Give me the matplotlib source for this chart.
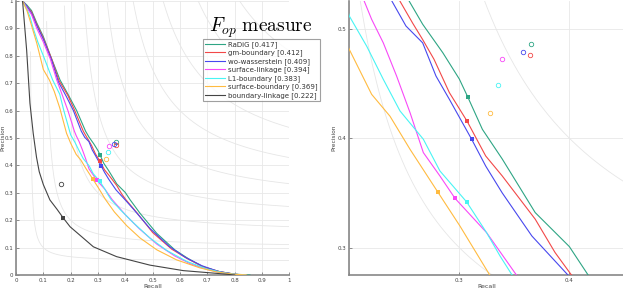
import numpy as np
import matplotlib
matplotlib.use("Agg")
import matplotlib.pyplot as plt

plt.rcParams['mathtext.fontset'] = 'cm'

# precision-recall curves (recall, precision)
radig_r = [0.024, 0.04, 0.057, 0.076, 0.1, 0.13, 0.161, 0.19, 0.222, 0.2545, 0.2667, 0.285, 0.3, 0.3075,
           0.321, 0.339, 0.369, 0.4, 0.4167, 0.454, 0.515, 0.582, 0.63, 0.684, 0.746, 0.8, 0.856]
radig_p = [1.0, 0.985, 0.965, 0.92, 0.87, 0.79, 0.712, 0.66, 0.6, 0.525, 0.504, 0.478, 0.454, 0.438,
           0.408, 0.381, 0.332, 0.301, 0.2756, 0.225, 0.152, 0.091, 0.06, 0.03, 0.012, 0.003, 0.0]

gm_r = [0.024, 0.04, 0.057, 0.076, 0.1, 0.13, 0.157, 0.19, 0.215, 0.2461, 0.2576, 0.2667, 0.277, 0.291,
        0.307, 0.324, 0.339, 0.369, 0.387, 0.4015, 0.44, 0.5, 0.57, 0.63, 0.684, 0.746, 0.8, 0.83]
gm_p = [1.0, 0.98, 0.96, 0.915, 0.865, 0.79, 0.71, 0.655, 0.6, 0.525, 0.505, 0.49, 0.472, 0.4415,
        0.4156, 0.3837, 0.3655, 0.326, 0.2956, 0.2756, 0.23, 0.155, 0.094, 0.058, 0.03, 0.012, 0.003, 0.0]

wo_r = [0.024, 0.04, 0.057, 0.076, 0.1, 0.13, 0.155, 0.185, 0.21, 0.2388, 0.2515, 0.2667, 0.2788, 0.291,
        0.3112, 0.324, 0.339, 0.366, 0.3982, 0.43, 0.49, 0.56, 0.62, 0.68, 0.74, 0.8, 0.83]
wo_p = [1.0, 0.98, 0.955, 0.91, 0.86, 0.785, 0.705, 0.65, 0.6, 0.525, 0.5024, 0.487, 0.4567, 0.4354,
        0.399, 0.3745, 0.35, 0.3106, 0.2756, 0.24, 0.17, 0.105, 0.064, 0.034, 0.013, 0.003, 0.0]

sl_r = [0.024, 0.04, 0.057, 0.076, 0.1, 0.125, 0.149, 0.17, 0.19, 0.2136, 0.2203, 0.2309, 0.243, 0.2552,
        0.2673, 0.2824, 0.2961, 0.3248, 0.3515, 0.4, 0.45, 0.515, 0.58, 0.64, 0.7, 0.76, 0.81, 0.84]
sl_p = [1.0, 0.975, 0.95, 0.9, 0.85, 0.79, 0.712, 0.655, 0.6, 0.525, 0.5085, 0.487, 0.4567, 0.4233,
        0.3868, 0.3654, 0.345, 0.3137, 0.2756, 0.22, 0.17, 0.113, 0.07, 0.04, 0.02, 0.007, 0.001, 0.0]

l1_r = [0.024, 0.04, 0.051, 0.063, 0.08, 0.1, 0.134, 0.16, 0.175, 0.2, 0.2158, 0.2309, 0.2461, 0.2673,
        0.2824, 0.3067, 0.3248, 0.337, 0.3476, 0.38, 0.43, 0.49, 0.551, 0.624, 0.698, 0.76, 0.81, 0.84]
l1_p = [1.0, 0.97, 0.943, 0.9, 0.85, 0.8, 0.712, 0.66, 0.6, 0.5115, 0.484, 0.4537, 0.4248, 0.399,
        0.37, 0.3417, 0.3137, 0.2924, 0.2756, 0.24, 0.19, 0.135, 0.09, 0.05, 0.022, 0.008, 0.002, 0.0]

sb_r = [0.024, 0.04, 0.051, 0.076, 0.1, 0.122, 0.14, 0.16, 0.185, 0.2, 0.2203, 0.237, 0.2552, 0.2803,
        0.3006, 0.3273, 0.36, 0.405, 0.454, 0.515, 0.588, 0.673, 0.734, 0.795, 0.844]
sb_p = [1.0, 0.965, 0.93, 0.846, 0.75, 0.712, 0.67, 0.61, 0.517, 0.481, 0.44, 0.42, 0.3898, 0.351,
        0.3197, 0.2756, 0.23, 0.18, 0.135, 0.092, 0.055, 0.026, 0.011, 0.003, 0.0]

bl_r = [0.024, 0.039, 0.051, 0.063, 0.075, 0.085, 0.1, 0.124, 0.15, 0.173, 0.198, 0.24, 0.283, 0.368,
        0.49, 0.612, 0.734, 0.8]
bl_p = [1.0, 0.82, 0.627, 0.517, 0.43, 0.377, 0.33, 0.274, 0.24, 0.208, 0.176, 0.14, 0.103, 0.067,
        0.036, 0.016, 0.006, 0.0]

names = ['RaDiG [0.417]', 'gm-boundary [0.412]', 'wo-wasserstein [0.409]', 'surface-linkage [0.394]',
         'L1-boundary [0.383]', 'surface-boundary [0.369]', 'boundary-linkage [0.222]']
colors = ['#2ea584', '#f24848', '#4848ee', '#f848f8', '#48f4f4', '#ffbb40', '#444444']
curves = [(radig_r, radig_p), (gm_r, gm_p), (wo_r, wo_p), (sl_r, sl_p),
          (l1_r, l1_p), (sb_r, sb_p), (bl_r, bl_p)]

# ODS points (filled) and OIS points (open circles)
ods_r = [0.3075, 0.307, 0.3112, 0.2961, 0.3067, 0.2803, 0.173]
ods_p = [0.438, 0.4156, 0.399, 0.345, 0.3417, 0.351, 0.208]
ois_r = [0.365, 0.3645, 0.3576, 0.3388, 0.3348, 0.328, 0.165]
ois_p = [0.486, 0.4756, 0.479, 0.4726, 0.4482, 0.423, 0.333]

f_levels = [0.1, 0.2, 0.3, 0.4, 0.5, 0.6, 0.7, 0.8, 0.9]

W, H = 623, 288
fig = plt.figure(figsize=(W / 100, H / 100), dpi=100)
ax1 = fig.add_axes([16 / W, 13 / H, 273.3 / W, 274 / H])
ax2 = fig.add_axes([349.3 / W, 13 / H, 275 / W, 273.75 / H])


def iso_f(ax):
    for f in f_levels:
        r = np.linspace(f / 2 + 1e-4, 1, 600)
        p = f * r / (2 * r - f)
        ok = p <= 1.0
        ax.plot(r[ok], p[ok], color='#e6e6e6', lw=0.6, zorder=1)


for ax in (ax1, ax2):
    iso_f(ax)
    for (r, p), c, n in zip(curves, colors, names):
        ax.plot(r, p, color=c, lw=0.8, label=n, zorder=3)
    for i, c in enumerate(colors):
        ax.plot(ods_r[i], ods_p[i], 's', color=c, ms=2.2, mew=0, zorder=4)
        ax.plot(ois_r[i], ois_p[i], 'o', mfc='none', mec=c, ms=3.2, mew=0.6, zorder=4)
    ax.grid(True, color='#e8e8e8', lw=0.6)
    ax.set_axisbelow(True)
    for s in ('top', 'right'):
        ax.spines[s].set_visible(False)
    for s in ('left', 'bottom'):
        ax.spines[s].set_color('#888888')
        ax.spines[s].set_linewidth(1.2)
    ax.tick_params(direction='in', length=2, width=0.5, colors='#666666', labelsize=4,
                   labelcolor='#444444', pad=2)
    ax.set_xlabel('Recall', fontsize=4.5, color='#444444', labelpad=1)
    ax.set_ylabel('Precision', fontsize=4.2, color='#444444', labelpad=1)

ax1.set_xlim(0, 1)
ax1.set_ylim(0, 1)
ticks = np.round(np.arange(0, 1.01, 0.1), 1)
ax1.set_xticks(ticks)
ax1.set_yticks(ticks)
ax1.set_xticklabels(['0'] + [f'{t:g}' for t in ticks[1:-1]] + ['1'])
ax1.set_yticklabels(['0'] + [f'{t:g}' for t in ticks[1:-1]] + ['1'])
ax1.yaxis.set_label_coords(-0.04, 0.5)

ax2.set_xlim(0.2, 0.45)
ax2.set_ylim(0.275, 0.525)
ax2.set_xticks([0.2, 0.3, 0.4])
ax2.set_xticklabels(['', '0.3', '0.4'])
ax2.set_yticks([0.3, 0.4, 0.5])

fig.text(261 / W, 1 - 28 / H, r'$F_{op}\ \mathrm{measure}$', fontsize=14, ha='center', va='center')

handles, labels = ax1.get_legend_handles_labels()
leg = fig.legend(handles, labels, loc='upper left', bbox_to_anchor=(203 / W, 1 - 39 / H),
                 fontsize=5, frameon=True, fancybox=False, edgecolor='#888888',
                 handlelength=2.8, handletextpad=0.5, labelspacing=0.25, borderpad=0.3,
                 borderaxespad=0)
leg.get_frame().set_linewidth(0.8)
for t in leg.get_texts():
    t.set_color('#333333')

fig.savefig('out.png', dpi=100)
